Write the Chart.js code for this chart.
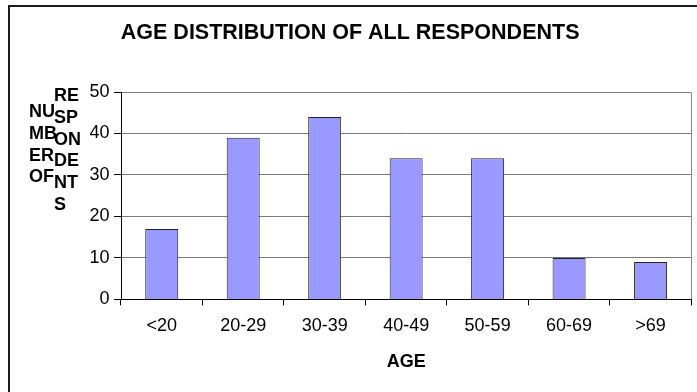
<!DOCTYPE html>
<html>
<head>
<meta charset="utf-8">
<script src="https://cdn.jsdelivr.net/npm/chart.js@4"></script>
<style>
  html, body { margin: 0; padding: 0; background: #ffffff; }
  #wrap { position: relative; width: 697px; height: 392px; }
</style>
</head>
<body>
<div id="wrap"><canvas id="chart" width="697" height="392"></canvas></div>
<script>
// Respondent counts per age band
const ageGroups = ['<20', '20-29', '30-39', '40-49', '50-59', '60-69', '>69'];
const respondents = [17, 39, 44, 34, 34, 10, 9];
const yTicks = [0, 10, 20, 30, 40, 50];

const chartTitle = 'AGE DISTRIBUTION OF ALL RESPONDENTS';
const xTitle = 'AGE';
// Axis caption, broken into narrow pieces in two columns
const yTitleLeft = ['NU', 'MB', 'ER', 'OF'];
const yTitleRight = ['RE', 'SP', 'ON', 'DE', 'NT', 'S'];

const FONT = "'Liberation Sans', Arial, sans-serif";

// Outer frame and right edge of the plot box
const framePlugin = {
  id: 'frame',
  beforeDraw(chart) {
    const ctx = chart.ctx;
    ctx.save();
    ctx.fillStyle = '#ffffff';
    ctx.fillRect(0, 0, chart.width, chart.height);
    ctx.fillStyle = '#1a1a1a';
    ctx.fillRect(8, 5, chart.width, 2);
    ctx.fillRect(8, 5, 2, chart.height);
    ctx.restore();
  },
  beforeDatasetsDraw(chart) {
    const a = chart.chartArea;
    const ctx = chart.ctx;
    ctx.save();
    ctx.strokeStyle = '#8c8c8c';
    ctx.lineWidth = 1;
    ctx.beginPath();
    const x = Math.round(a.right) + 0.5;
    ctx.moveTo(x, Math.round(a.top) + 0.5);
    ctx.lineTo(x, Math.round(a.bottom));
    ctx.stroke();
    ctx.restore();
  }
};

// Two-column vertical-axis caption
const yCaptionPlugin = {
  id: 'yCaption',
  afterDraw(chart) {
    const ctx = chart.ctx;
    ctx.save();
    ctx.font = 'bold 18px ' + FONT;
    ctx.fillStyle = '#000000';
    ctx.textAlign = 'left';
    ctx.textBaseline = 'middle';
    yTitleLeft.forEach((t, i) => ctx.fillText(t, 29, 112 + i * 21.8));
    yTitleRight.forEach((t, i) => ctx.fillText(t, 54, 96 + i * 21.8));
    ctx.restore();
  }
};

new Chart(document.getElementById('chart'), {
  type: 'bar',
  data: {
    labels: ageGroups,
    datasets: [{
      data: respondents,
      backgroundColor: '#9999ff',
      borderColor: '#222222',
      borderWidth: 1,
      barPercentage: 0.405,
      categoryPercentage: 1
    }]
  },
  options: {
    responsive: false,
    animation: false,
    devicePixelRatio: 1,
    layout: { padding: { left: 9, right: 5.7, top: 0, bottom: 0 } },
    plugins: {
      legend: { display: false },
      tooltip: { enabled: false },
      title: {
        display: true,
        text: chartTitle,
        color: '#000000',
        font: { family: FONT, size: 21.5, weight: 'bold', lineHeight: 1.2 },
        padding: { top: 20, bottom: 46.2 }
      }
    },
    scales: {
      x: {
        grid: {
          display: true,
          drawOnChartArea: false,
          drawTicks: true,
          tickLength: 6,
          tickColor: '#000000',
          offset: true
        },
        border: { display: true, color: '#000000', width: 1 },
        ticks: {
          color: '#000000',
          padding: 9.5,
          font: { family: FONT, size: 18, lineHeight: 1.2 },
          maxRotation: 0,
          autoSkip: false
        },
        title: {
          display: true,
          text: xTitle,
          color: '#000000',
          font: { family: FONT, size: 18, weight: 'bold', lineHeight: 1.2 },
          padding: { top: 5.4, bottom: 19 }
        }
      },
      y: {
        min: 0,
        max: 50,
        afterFit(scale) { scale.width = 112; },
        afterBuildTicks(scale) { scale.ticks = yTicks.map(v => ({ value: v })); },
        grid: {
          color: '#7a7a7a',
          lineWidth: 1,
          drawTicks: true,
          tickLength: 7,
          tickColor: '#000000'
        },
        border: { display: true, color: '#000000', width: 1 },
        ticks: {
          color: '#000000',
          padding: 4.5,
          font: { family: FONT, size: 18, lineHeight: 1.2 }
        }
      }
    }
  },
  plugins: [framePlugin, yCaptionPlugin]
});
</script>
</body>
</html>
